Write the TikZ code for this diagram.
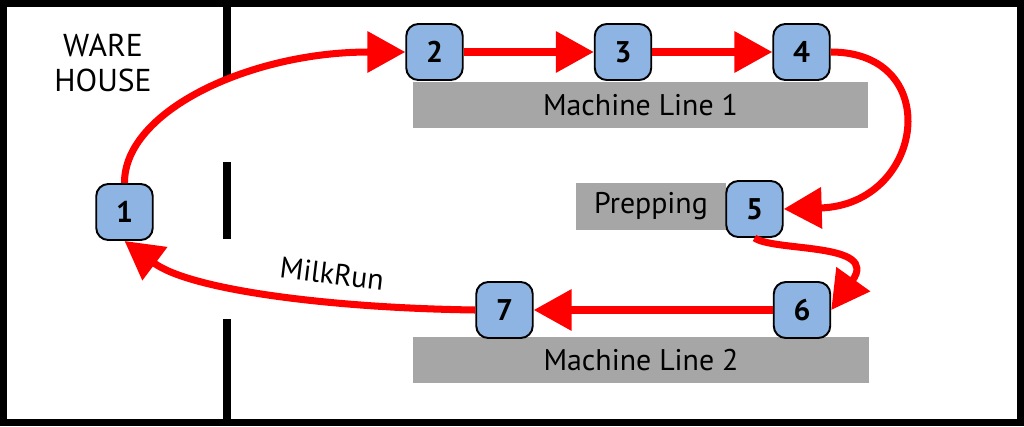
\documentclass[tikz,border=0pt]{standalone}
\usepackage{fontspec}
\setmainfont{PT Sans}
\usetikzlibrary{arrows.meta, positioning}
\definecolor{stationblue}{RGB}{141,180,226}
\definecolor{linegray}{RGB}{166,166,166}
\definecolor{runred}{RGB}{255,0,0}
\tikzstyle{station} = [rectangle, rounded corners=0.24cm, minimum width=1.13cm, minimum height=1.12cm, inner sep=0pt, draw=black, line width=1.1pt, fill=stationblue, font=\fontsize{17}{19}\selectfont\bfseries]
\tikzstyle{machine} = [rectangle, minimum height=0.92cm, inner sep=0pt, fill=linegray, font=\fontsize{17}{19}\selectfont]
\tikzstyle{wall} = [line width=4pt]
\tikzstyle{arrow} = [draw=runred, line width=4pt, -{Triangle[length=0.76cm,width=0.8cm]}]

\begin{document}
\begin{tikzpicture}[x=0.02cm, y=-0.02cm]
\useasboundingbox (0,0) rectangle (1024,426);

% building
\draw[wall] (3.5,3.5) rectangle (1020.5,422.5);
\draw[wall] (227,0) -- (227,81);
\draw[wall] (227,162) -- (227,239);
\draw[wall] (227,319) -- (227,426);
\node (warehouse) [align=center, font=\fontsize{18}{20}\selectfont] at (103,63) {WARE\\HOUSE};

% machine lines
\node (line1) [machine, minimum width=9.1cm] at (640.5,105) {Machine Line 1};
\node (line2) [machine, minimum width=9.12cm] at (641,360) {Machine Line 2};
\node (prep) [machine, minimum width=3cm, minimum height=0.94cm] at (651,206.5) {Prepping};

% stations
\node (one) [station] at (124.5,212) {1};
\node (two) [station] at (434.5,52) {2};
\node (three) [station] at (623,52) {3};
\node (four) [station] at (801.5,52) {4};
\node (five) [station] at (754.5,209) {5};
\node (six) [station] at (802,310) {6};
\node (seven) [station] at (504.5,310) {7};

% milk run
\draw [arrow] (one.north) .. controls (124,111) and (250,52) .. (two.west);
\draw [arrow] (two) -- (three);
\draw [arrow] (three) -- (four);
\draw [arrow] (four.east) .. controls (945,52) and (925,205) .. (five.east);
\draw [arrow] (five.south) .. controls (775,252) and (880,242) .. (six.east);
\draw [arrow] (six) -- (seven);
\draw [arrow] (seven.west) .. controls (330,308) and (190,290) .. (one.south);
\node (milkrun) [rotate=-7, font=\fontsize{17}{19}\selectfont] at (332,274) {MilkRun};

\end{tikzpicture}
\end{document}
